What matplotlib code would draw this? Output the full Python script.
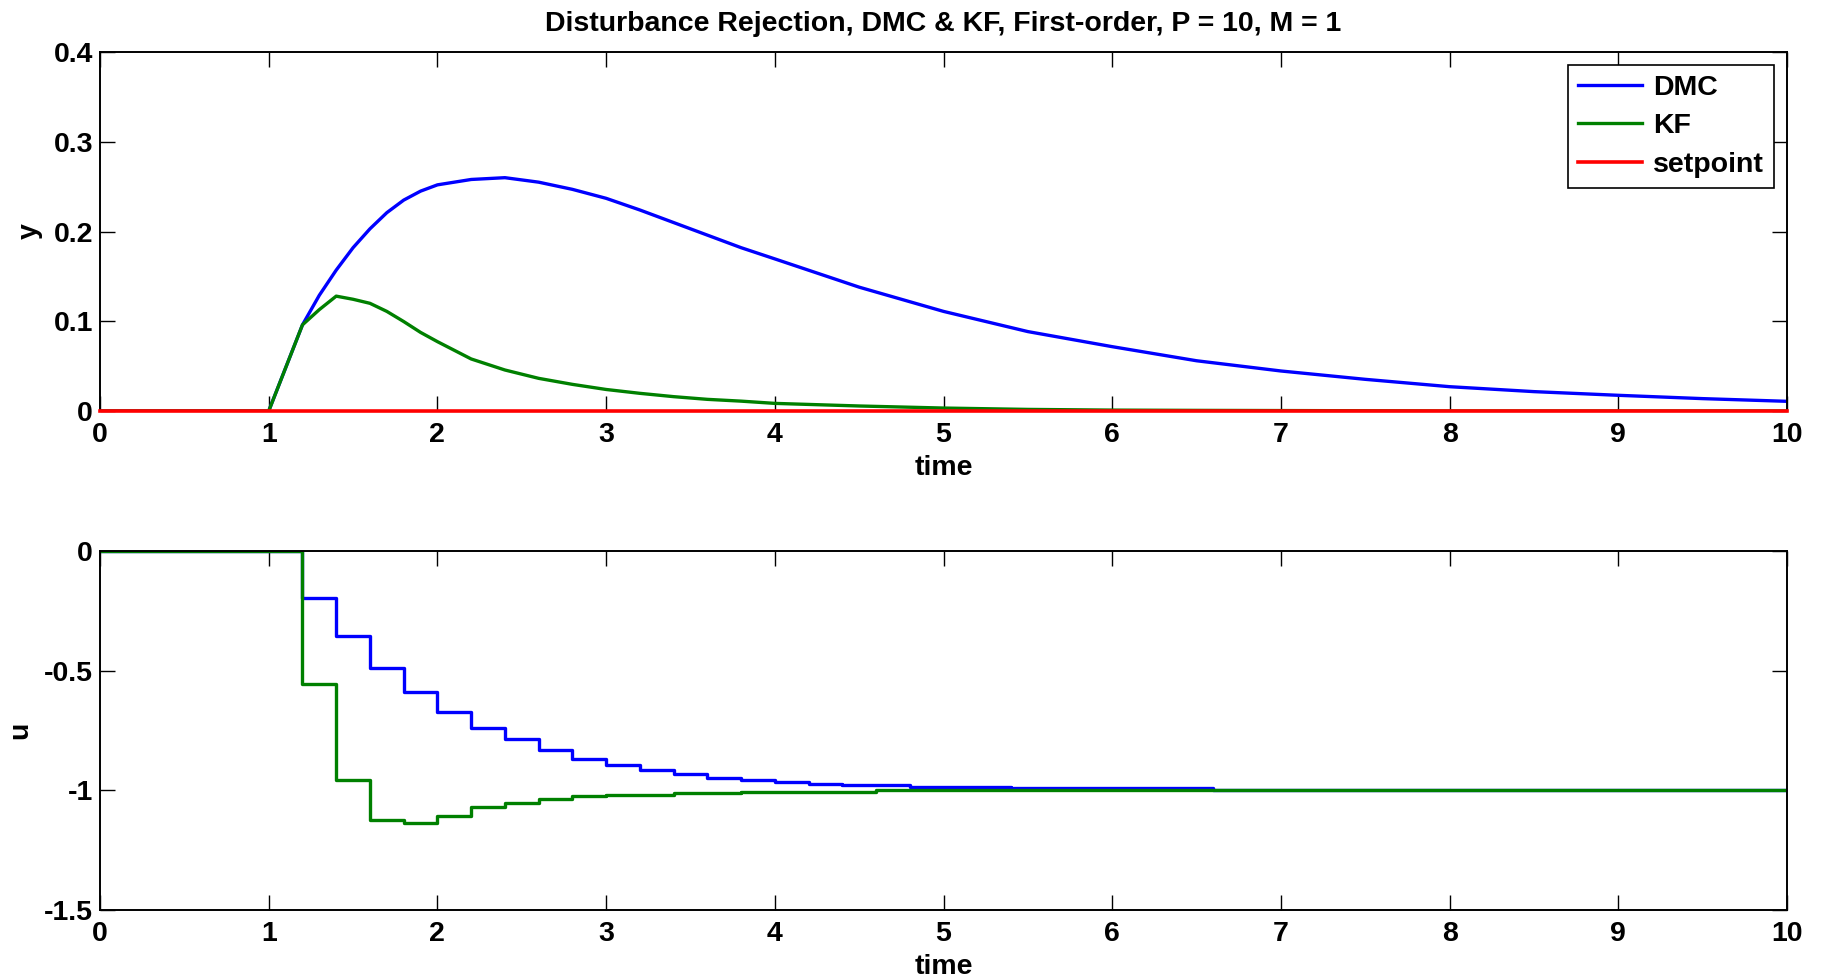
"""Disturbance rejection: DMC vs KF, first-order plant"""
import matplotlib
matplotlib.use('Agg')
import matplotlib.pyplot as plt

plt.rcParams['font.family'] = ['Liberation Sans', 'DejaVu Sans']
plt.rcParams['font.weight'] = 'bold'

BLUE = '#0000ff'
GREEN = '#008000'
RED = '#ff0000'

# --- output y ---
t_y = [0, 1.0, 1.1, 1.2, 1.3, 1.4, 1.5, 1.6, 1.7, 1.8, 1.9, 2.0, 2.2, 2.4, 2.6,
       2.8, 3.0, 3.2, 3.4, 3.6, 3.8, 4.0, 4.5, 5.0, 5.5, 6.0, 6.5, 7.0, 7.5,
       8.0, 8.5, 9.0, 9.5, 10.0]
y_dmc = [0, 0, 0.048, 0.096, 0.129, 0.157, 0.182, 0.203, 0.221, 0.235, 0.245,
         0.252, 0.258, 0.260, 0.255, 0.247, 0.237, 0.224, 0.210, 0.196, 0.182,
         0.1695, 0.138, 0.111, 0.0885, 0.0717, 0.056, 0.0446, 0.0353, 0.0271,
         0.0216, 0.0175, 0.0138, 0.0108]
y_kf = [0, 0, 0.048, 0.096, 0.113, 0.128, 0.1245, 0.120, 0.111, 0.0997, 0.0876,
        0.0773, 0.058, 0.0457, 0.0364, 0.0297, 0.024, 0.0197, 0.016, 0.013,
        0.011, 0.0085, 0.0056, 0.0033, 0.0018, 0.001, 0.0007, 0.0005, 0.0003,
        0.0, 0.0, 0.0, 0.0, 0.0]
t_sp = [0, 10]
y_sp = [0, 0]

# --- input u (piecewise constant, value holds until next breakpoint) ---
t_u_dmc = [0, 1.2, 1.4, 1.6, 1.8, 2.0, 2.2, 2.4, 2.6, 2.8, 3.0, 3.2, 3.4, 3.6,
           3.8, 4.0, 4.2, 4.4, 4.8, 5.4, 6.6, 10.0]
u_dmc = [0, -0.197, -0.357, -0.488, -0.588, -0.673, -0.741, -0.787, -0.833,
         -0.868, -0.894, -0.913, -0.930, -0.948, -0.956, -0.965, -0.972, -0.977,
         -0.984, -0.990, -1.0, -1.0]
t_u_kf = [0, 1.2, 1.4, 1.6, 1.8, 2.0, 2.2, 2.4, 2.6, 2.8, 3.0, 3.4, 3.8, 4.6, 10.0]
u_kf = [0, -0.555, -0.956, -1.123, -1.137, -1.109, -1.070, -1.052, -1.037,
        -1.025, -1.018, -1.011, -1.006, -1.0, -1.0]

fig = plt.figure(figsize=(18.22, 9.8), dpi=100)
fig.patch.set_facecolor('white')
ax1 = fig.add_axes([0.0549, 0.5806, 0.9259, 0.3663])
ax2 = fig.add_axes([0.0549, 0.0714, 0.9259, 0.3663])

FS = 20.5


def style(ax):
    ax.set_xlim(0, 10)
    ax.set_xticks(range(0, 11))
    ax.tick_params(direction='in', length=11, width=1.0, top=True, right=True,
                   labelsize=FS, color='black')
    ax.tick_params(axis='x', pad=8)
    ax.tick_params(axis='y', pad=5)
    for s in ax.spines.values():
        s.set_linewidth(1.4)
        s.set_color('black')
    for lbl in ax.get_xticklabels() + ax.get_yticklabels():
        lbl.set_fontweight('bold')


# Top panel
ax1.plot(t_y, y_dmc, color=BLUE, lw=2.4, label='DMC')
ax1.plot(t_y, y_kf, color=GREEN, lw=2.4, label='KF')
ax1.plot(t_sp, y_sp, color=RED, lw=2.6, label='setpoint', clip_on=False,
         zorder=5)
ax1.set_ylim(0, 0.4)
ax1.set_yticks([0, 0.1, 0.2, 0.3, 0.4])
ax1.set_yticklabels(['0', '0.1', '0.2', '0.3', '0.4'])
style(ax1)
ax1.set_xlabel('time', fontsize=FS, fontweight='bold', labelpad=5)
ax1.set_ylabel('y', fontsize=FS, fontweight='bold', labelpad=8)
ax1.set_title('Disturbance Rejection, DMC & KF, First-order, P = 10, M = 1',
              fontsize=FS, fontweight='bold', pad=15)
leg = ax1.legend(loc='upper right', fontsize=FS, handlelength=2.25,
                 labelspacing=0.44, borderaxespad=0.45, fancybox=False,
                 framealpha=1, edgecolor='black', borderpad=0.35,
                 handletextpad=0.4)
leg.get_frame().set_linewidth(1.2)
for txt in leg.get_texts():
    txt.set_fontweight('bold')

# Bottom panel
ax2.step(t_u_dmc, u_dmc, where='post', color=BLUE, lw=2.4)
ax2.step(t_u_kf, u_kf, where='post', color=GREEN, lw=2.4)
ax2.set_ylim(-1.5, 0)
ax2.set_yticks([-1.5, -1, -0.5, 0])
ax2.set_yticklabels(['-1.5', '-1', '-0.5', '0'])
style(ax2)
ax2.set_xlabel('time', fontsize=FS, fontweight='bold', labelpad=5)
ax2.set_ylabel('u', fontsize=FS, fontweight='bold', labelpad=8)

plt.savefig('out.png', dpi=100, facecolor='white')
